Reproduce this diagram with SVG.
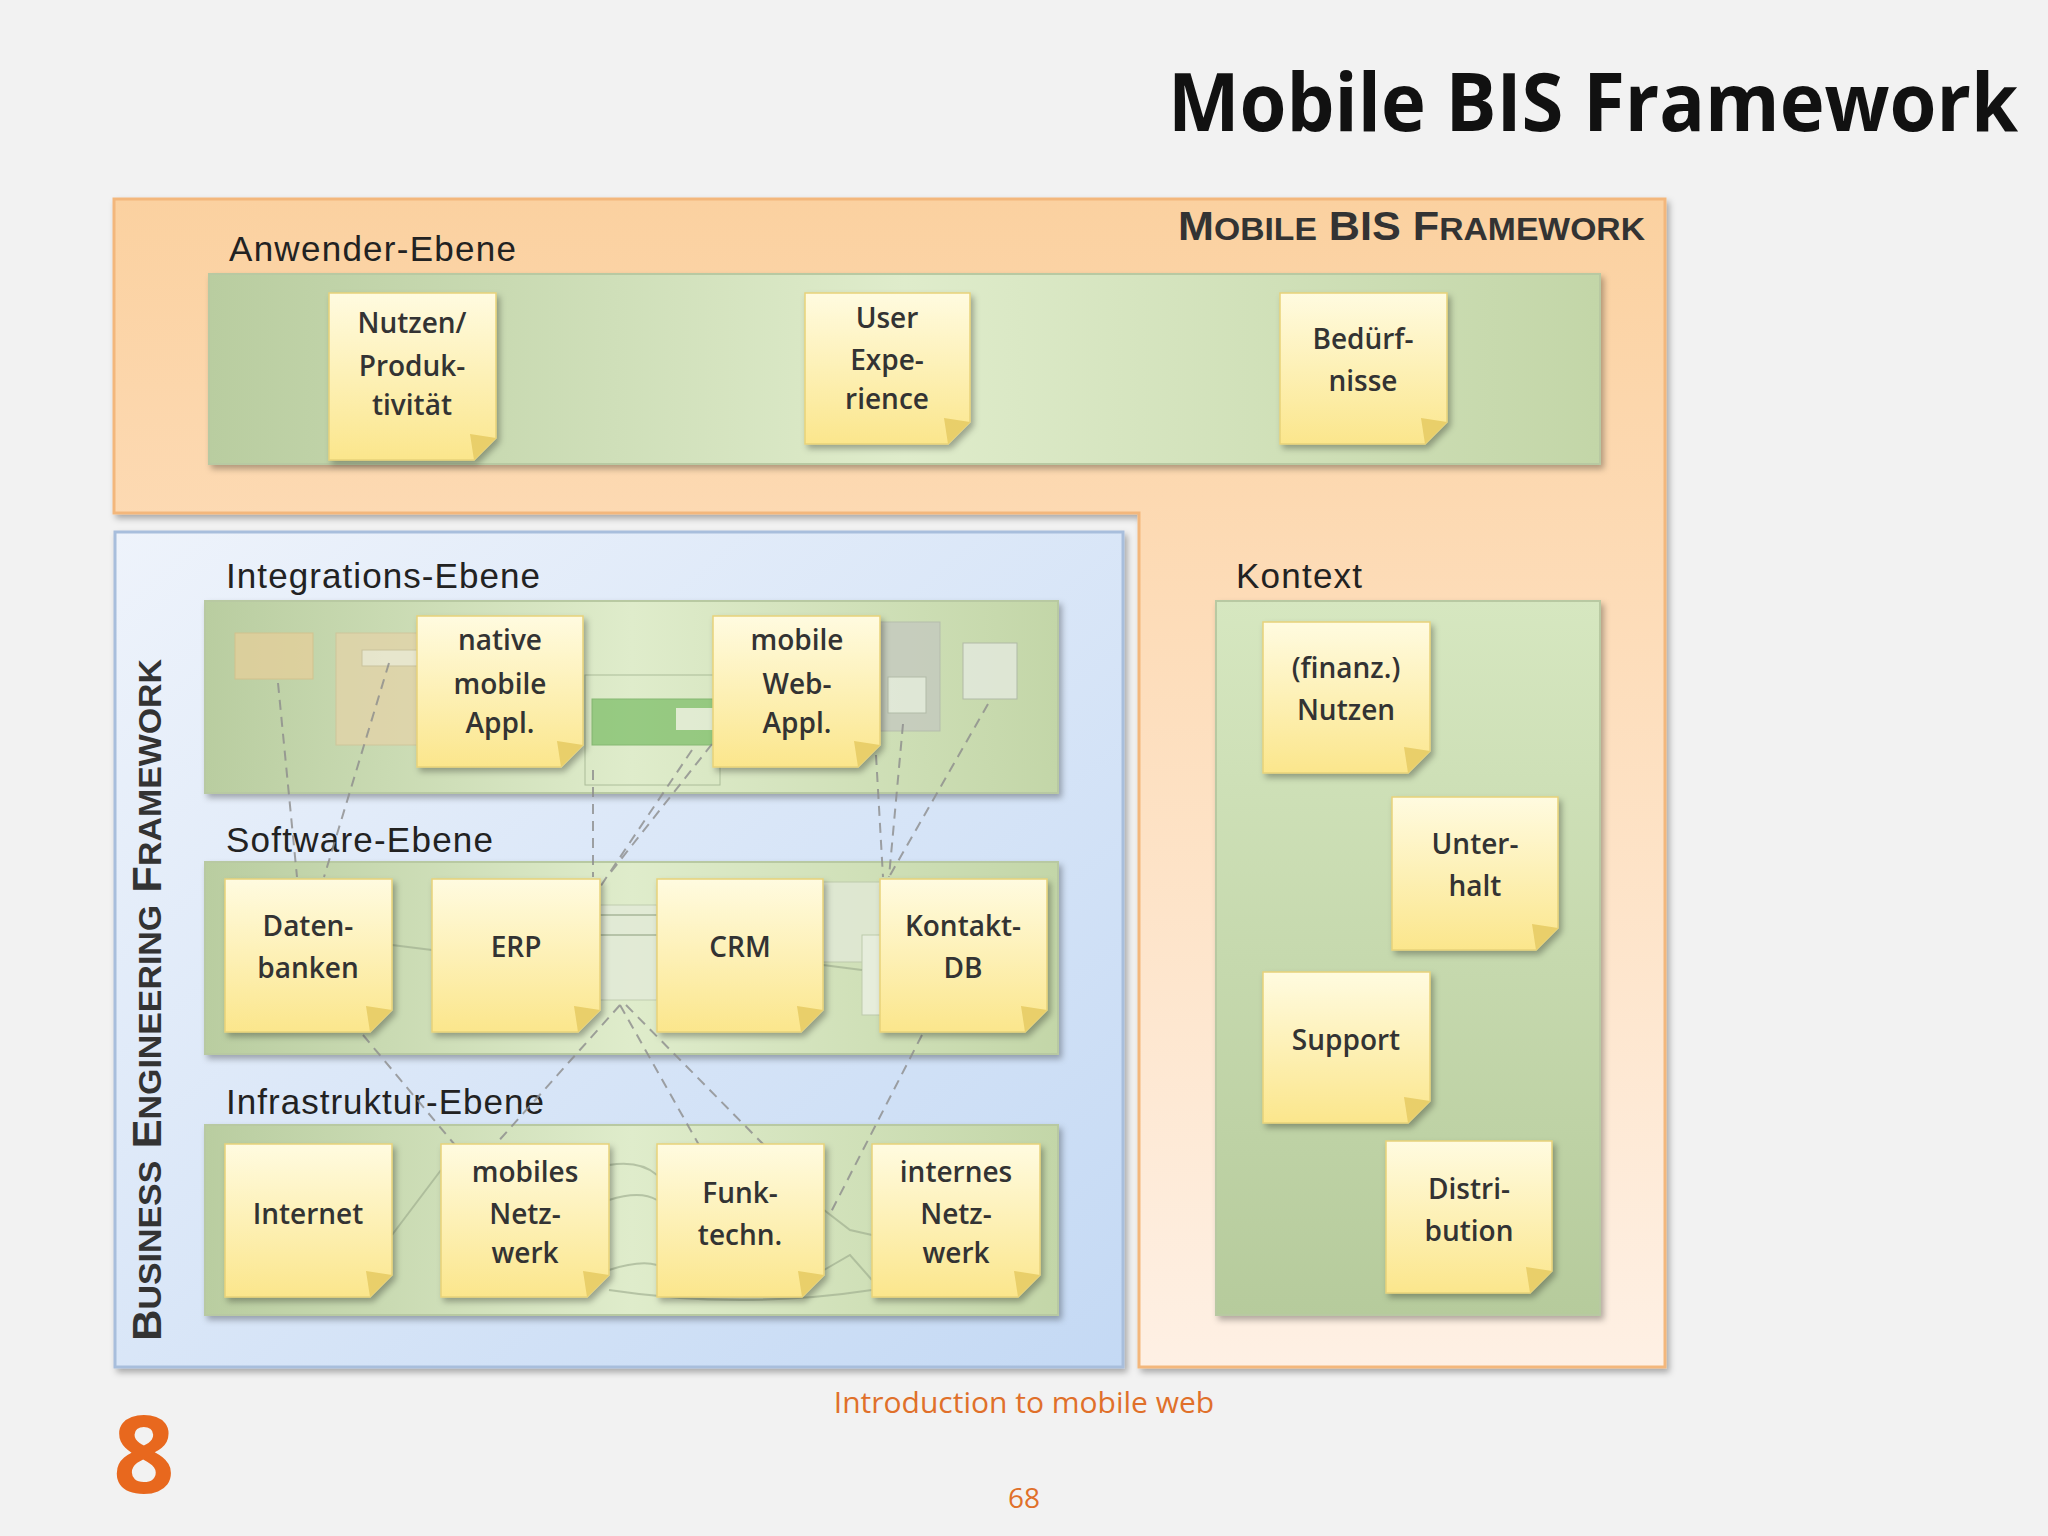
<svg xmlns="http://www.w3.org/2000/svg" width="2048" height="1536" viewBox="0 0 2048 1536">
<defs>
<linearGradient id="org" x1="0" y1="0" x2="0" y2="1"><stop offset="0" stop-color="#fbd1a0"/><stop offset="0.35" stop-color="#fddcb8"/><stop offset="1" stop-color="#fef0e4"/></linearGradient>
<linearGradient id="blu" x1="0" y1="0" x2="1" y2="1"><stop offset="0" stop-color="#eef3fb"/><stop offset="1" stop-color="#c4d9f4"/></linearGradient>
<linearGradient id="grn" x1="0" y1="0" x2="1" y2="0"><stop offset="0" stop-color="#b9cda0"/><stop offset="0.5" stop-color="#dfeccb"/><stop offset="1" stop-color="#c3d6a8"/></linearGradient>
<linearGradient id="grnv" x1="0" y1="0" x2="0" y2="1"><stop offset="0" stop-color="#d6e7c0"/><stop offset="1" stop-color="#b6cb9c"/></linearGradient>
<linearGradient id="yel" x1="0" y1="0" x2="0" y2="1"><stop offset="0" stop-color="#fffbe0"/><stop offset="1" stop-color="#fbe68c"/></linearGradient>
<filter id="sh" x="-10%" y="-10%" width="130%" height="130%"><feDropShadow dx="3" dy="4" stdDeviation="3" flood-color="#000" flood-opacity="0.3"/></filter>
</defs>
<style>
.lbl{font-family:"Liberation Sans",Arial,sans-serif;font-size:35px;fill:#222}
.nt{font-family:"Open Sans","Liberation Sans",sans-serif;font-size:28px;font-weight:600;fill:#333;text-anchor:middle}
.note{fill:url(#yel);stroke:#e8d27a;stroke-width:1.5;filter:url(#sh)}
.fold{fill:#e9cf6a}
.band{fill:url(#grn);stroke:#b8c9a2;stroke-width:2;filter:url(#sh)}
.dash{stroke:#8c8c8c;stroke-width:2;stroke-dasharray:10 7;fill:none;opacity:0.8}
.faint{stroke:#9aa88a;stroke-width:2;fill:none;opacity:0.6}
</style>
<rect width="2048" height="1536" fill="#f2f2f2"/>
<text x="2018" y="131" text-anchor="end" textLength="850" lengthAdjust="spacingAndGlyphs" font-family="'Open Sans','Liberation Sans',sans-serif" font-weight="bold" font-size="80" fill="#111">Mobile BIS Framework</text>

<path d="M114,199 H1665 V1367 H1139 V513 H114 Z" fill="url(#org)" stroke="#f3b77c" stroke-width="3" filter="url(#sh)"/>
<text x="1645" y="240" text-anchor="end" textLength="467" lengthAdjust="spacingAndGlyphs" font-family="'Liberation Sans',Arial,sans-serif" font-weight="bold" font-size="41" fill="#333">M<tspan font-size="32">OBILE</tspan> BIS F<tspan font-size="32">RAMEWORK</tspan></text>
<text class="lbl" x="229" y="261" textLength="287">Anwender-Ebene</text>
<rect class="band" x="209" y="274" width="1391" height="190"/>

<rect x="115" y="532" width="1008" height="835" fill="url(#blu)" stroke="#a8bedc" stroke-width="3" filter="url(#sh)"/>
<text transform="translate(161,1341) rotate(-90)" textLength="682" lengthAdjust="spacingAndGlyphs" font-family="'Liberation Sans',Arial,sans-serif" font-weight="bold" font-size="40" fill="#333">B<tspan font-size="31">USINESS</tspan> E<tspan font-size="31">NGINEERING</tspan> F<tspan font-size="31">RAMEWORK</tspan></text>

<text class="lbl" x="226" y="588" textLength="314">Integrations-Ebene</text>
<rect class="band" x="205" y="601" width="853" height="192"/>
<text class="lbl" x="226" y="852" textLength="267">Software-Ebene</text>
<rect class="band" x="205" y="862" width="853" height="192"/>
<text class="lbl" x="226" y="1114" textLength="318">Infrastruktur-Ebene</text>
<rect class="band" x="205" y="1125" width="853" height="190"/>

<text class="lbl" x="1236" y="588" textLength="126">Kontext</text>
<rect x="1216" y="601" width="384" height="714" fill="url(#grnv)" stroke="#b8c9a2" stroke-width="2" filter="url(#sh)"/>

<g id="bg-shapes" opacity="0.75">
<rect x="235" y="633" width="78" height="46" fill="#e6cf9a" stroke="#d7bd86"/>
<rect x="336" y="633" width="82" height="112" fill="#e4d3a8" stroke="#d2c094"/>
<rect x="362" y="650" width="56" height="16" fill="#f1ead6" stroke="#c9bb95"/>
<rect x="592" y="699" width="121" height="46" fill="#7fbf6a" stroke="#6aa856"/>
<rect x="676" y="708" width="37" height="22" fill="#e3ecd6"/>
<rect x="585" y="675" width="135" height="110" fill="none" stroke="#9cae8a"/>
<rect x="880" y="622" width="60" height="109" fill="#c4c8c0" stroke="#aeb3aa"/>
<rect x="888" y="677" width="38" height="36" fill="#e6ebe2" stroke="#a9b0a4"/>
<rect x="963" y="643" width="54" height="56" fill="#e6ebe2" stroke="#a9b0a4"/>
<rect x="600" y="905" width="57" height="95" fill="#e3ead9" stroke="#b7c3a8"/>
<rect x="823" y="882" width="60" height="80" fill="#e3ead9" stroke="#b7c3a8"/>
<rect x="862" y="935" width="20" height="80" fill="#eef2e8" stroke="#b7c3a8"/>
</g>

<g id="connectors">
<path class="faint" d="M392,945 L432,950 M600,915 H657 M600,935 H657 M823,965 L862,970 M392,1235 L441,1170 M609,1165 Q640,1160 657,1175 M609,1200 Q640,1190 657,1200 M609,1270 Q640,1260 657,1265 M824,1210 L850,1230 L872,1235 M824,1270 L850,1255 L872,1280 M609,1290 Q740,1310 872,1290"/>
<path class="dash" d="M278,683 L297,877 M389,663 L324,877 M593,770 L593,877 M712,744 L607,877 M692,750 L600,887 M876,755 L883,877 M903,724 L889,877 M988,704 L889,877 M363,1035 L455,1145 M620,1005 L495,1145 M620,1005 L699,1145 M626,1005 L764,1145 M922,1035 L830,1214"/>
</g>

<g id="n1"><path class="note" d="M329,293 H496 V438 L474,460 H329 Z"/><path class="fold" d="M496,438 L474,460 L470,434 Z"/><text class="nt" x="412"><tspan y="333" x="412">Nutzen/</tspan><tspan y="376" x="412">Produk-</tspan><tspan y="415" x="412">tivität</tspan></text></g>
<g id="n2"><path class="note" d="M805,293 H970 V422 L948,444 H805 Z"/><path class="fold" d="M970,422 L948,444 L944,418 Z"/><text class="nt"><tspan y="328" x="887">User</tspan><tspan y="370" x="887">Expe-</tspan><tspan y="409" x="887">rience</tspan></text></g>
<g id="n3"><path class="note" d="M1280,293 H1447 V422 L1425,444 H1280 Z"/><path class="fold" d="M1447,422 L1425,444 L1421,418 Z"/><text class="nt"><tspan y="349" x="1363">Bedürf-</tspan><tspan y="391" x="1363">nisse</tspan></text></g>
<g id="n4"><path class="note" d="M417,616 H583 V745 L561,767 H417 Z"/><path class="fold" d="M583,745 L561,767 L557,741 Z"/><text class="nt"><tspan y="650" x="500">native</tspan><tspan y="694" x="500">mobile</tspan><tspan y="733" x="500">Appl.</tspan></text></g>
<g id="n5"><path class="note" d="M713,616 H880 V745 L858,767 H713 Z"/><path class="fold" d="M880,745 L858,767 L854,741 Z"/><text class="nt"><tspan y="650" x="797">mobile</tspan><tspan y="694" x="797">Web-</tspan><tspan y="733" x="797">Appl.</tspan></text></g>
<g id="n6"><path class="note" d="M225,879 H392 V1010 L370,1032 H225 Z"/><path class="fold" d="M392,1010 L370,1032 L366,1006 Z"/><text class="nt"><tspan y="936" x="308">Daten-</tspan><tspan y="978" x="308">banken</tspan></text></g>
<g id="n7"><path class="note" d="M432,879 H600 V1010 L578,1032 H432 Z"/><path class="fold" d="M600,1010 L578,1032 L574,1006 Z"/><text class="nt" x="516" y="957">ERP</text></g>
<g id="n8"><path class="note" d="M657,879 H823 V1010 L801,1032 H657 Z"/><path class="fold" d="M823,1010 L801,1032 L797,1006 Z"/><text class="nt" x="740" y="957">CRM</text></g>
<g id="n9"><path class="note" d="M880,879 H1047 V1010 L1025,1032 H880 Z"/><path class="fold" d="M1047,1010 L1025,1032 L1021,1006 Z"/><text class="nt"><tspan y="936" x="963">Kontakt-</tspan><tspan y="978" x="963">DB</tspan></text></g>
<g id="n10"><path class="note" d="M225,1144 H392 V1275 L370,1297 H225 Z"/><path class="fold" d="M392,1275 L370,1297 L366,1271 Z"/><text class="nt" x="308" y="1224">Internet</text></g>
<g id="n11"><path class="note" d="M441,1144 H609 V1275 L587,1297 H441 Z"/><path class="fold" d="M609,1275 L587,1297 L583,1271 Z"/><text class="nt"><tspan y="1182" x="525">mobiles</tspan><tspan y="1224" x="525">Netz-</tspan><tspan y="1263" x="525">werk</tspan></text></g>
<g id="n12"><path class="note" d="M657,1144 H824 V1275 L802,1297 H657 Z"/><path class="fold" d="M824,1275 L802,1297 L798,1271 Z"/><text class="nt"><tspan y="1203" x="740">Funk-</tspan><tspan y="1245" x="740">techn.</tspan></text></g>
<g id="n13"><path class="note" d="M872,1144 H1040 V1275 L1018,1297 H872 Z"/><path class="fold" d="M1040,1275 L1018,1297 L1014,1271 Z"/><text class="nt"><tspan y="1182" x="956">internes</tspan><tspan y="1224" x="956">Netz-</tspan><tspan y="1263" x="956">werk</tspan></text></g>
<g id="n14"><path class="note" d="M1263,622 H1430 V751 L1408,773 H1263 Z"/><path class="fold" d="M1430,751 L1408,773 L1404,747 Z"/><text class="nt"><tspan y="678" x="1346">(finanz.)</tspan><tspan y="720" x="1346">Nutzen</tspan></text></g>
<g id="n15"><path class="note" d="M1392,797 H1558 V928 L1536,950 H1392 Z"/><path class="fold" d="M1558,928 L1536,950 L1532,924 Z"/><text class="nt"><tspan y="854" x="1475">Unter-</tspan><tspan y="896" x="1475">halt</tspan></text></g>
<g id="n16"><path class="note" d="M1263,972 H1430 V1101 L1408,1123 H1263 Z"/><path class="fold" d="M1430,1101 L1408,1123 L1404,1097 Z"/><text class="nt" x="1346" y="1050">Support</text></g>
<g id="n17"><path class="note" d="M1386,1141 H1552 V1271 L1530,1293 H1386 Z"/><path class="fold" d="M1552,1271 L1530,1293 L1526,1267 Z"/><text class="nt"><tspan y="1199" x="1469">Distri-</tspan><tspan y="1241" x="1469">bution</tspan></text></g>

<text x="1024" y="1413" text-anchor="middle" font-family="'Open Sans','Liberation Sans',sans-serif" font-size="30" fill="#e0702a">Introduction to mobile web</text>
<text x="113" y="1493" font-family="'Open Sans','Liberation Sans',sans-serif" font-weight="bold" font-size="108" fill="#e8681e">8</text>
<text x="1024" y="1508" text-anchor="middle" font-family="'Open Sans','Liberation Sans',sans-serif" font-size="28" fill="#e0702a">68</text>
</svg>
